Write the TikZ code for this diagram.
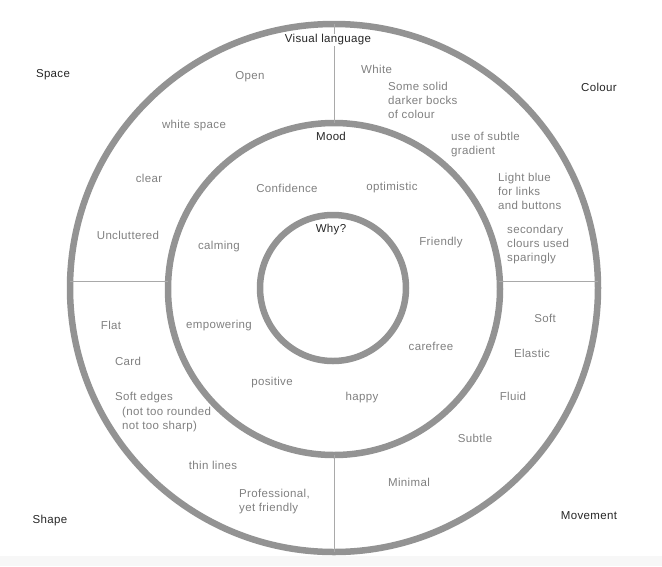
\documentclass[tikz,border=0pt]{standalone}
\usepackage{fontspec}
\setmainfont{Liberation Sans}[LetterSpace=3]
\begin{document}
\begin{tikzpicture}[x=1pt,y=-1pt,
  ring/.style={draw=ringc,line width=6.5pt},
  sep/.style={draw=ringc!80,line width=0.8pt},
  head/.style={font=\fontsize{11.5}{13}\selectfont,text=black!85,inner sep=0pt},
  item/.style={font=\fontsize{11.5}{14}\selectfont,text=black!50,inner sep=0pt,align=left}]
\definecolor{ringc}{HTML}{939393}
\useasboundingbox (0,0) rectangle (662,566);
\fill[black!3] (0,556) rectangle (662,566);
\node[circle,minimum size=528pt,ring] (outer) at (334,288) {};
\node[circle,minimum size=332pt,ring] (mid) at (334,289) {};
\node[circle,minimum size=146pt,ring] (inner) at (333,288) {};
\coordinate (t1) at (334,24); \coordinate (t2) at (334,123);
\coordinate (b1) at (334,455); \coordinate (b2) at (334,552);
\coordinate (l1) at (70,281); \coordinate (l2) at (168,281);
\coordinate (r1) at (499,281); \coordinate (r2) at (598,281);
\draw[sep] (t1)--(t2); \draw[sep] (b1)--(b2);
\draw[sep] (l1)--(l2); \draw[sep] (r1)--(r2);
\node[head,fill=white,inner sep=1pt] (vl) at (328,40) {Visual language};
\node[head] (sp) at (53,75) {Space};
\node[head] (co) at (599,87) {Colour};
\node[head] (sh) at (50,521) {Shape};
\node[head] (mv) at (589,516) {Movement};
\node[head,fill=white,inner sep=1pt] (mo) at (331,136) {Mood};
\node[head] (wh) at (331,230) {Why?};
\node[item] (n1) at (250,77) {Open};
\node[item,anchor=west] (n2) at (361,69) {White};
\node[item,anchor=north west] (n3) at (388,82) {Some solid\\darker bocks\\of colour};
\node[item,anchor=north west] (n4) at (451,132) {use of subtle\\gradient};
\node[item,anchor=north west] (n5) at (498,173) {Light blue\\for links\\and buttons};
\node[item,anchor=north west] (n6) at (507,225) {secondary\\clours used\\sparingly};
\node[item] (n7) at (194,126) {white space};
\node[item] (n8) at (149,178) {clear};
\node[item] (n9) at (128,235) {Uncluttered};
\node[item] (n10) at (287,188) {Confidence};
\node[item] (n11) at (392,188) {optimistic};
\node[item] (n12) at (219,247) {calming};
\node[item] (n13) at (441,243) {Friendly};
\node[item] (n14) at (219,326) {empowering};
\node[item] (n15) at (431,346) {carefree};
\node[item] (n16) at (272,383) {positive};
\node[item] (n17) at (362,398) {happy};
\node[item] (n18) at (545,318) {Soft};
\node[item] (n19) at (532,353) {Elastic};
\node[item] (n20) at (513,396) {Fluid};
\node[item] (n21) at (475,438) {Subtle};
\node[item] (n22) at (409,482) {Minimal};
\node[item] (n23) at (111,325) {Flat};
\node[item] (n24) at (128,361) {Card};
\node[item,anchor=west] (n25) at (115,398) {Soft edges};
\node[item,anchor=north west] (n26) at (122,407) {(not too rounded\\not too sharp)};
\node[item] (n27) at (213,465) {thin lines};
\node[item,anchor=north west] (n28) at (239,489) {Professional,\\yet friendly};
\end{tikzpicture}
\end{document}
